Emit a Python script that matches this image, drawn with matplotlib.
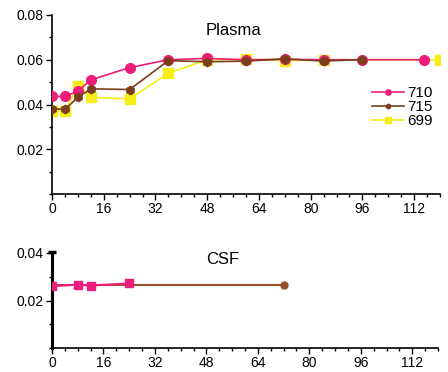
import matplotlib
matplotlib.use("Agg")
import matplotlib.pyplot as plt
from matplotlib.ticker import MultipleLocator

plt.rcParams['font.family'] = ['Liberation Sans', 'DejaVu Sans']

# Plasma data
t710 = [0, 4, 8, 12, 24, 36, 48, 60, 72, 84, 96, 115]
y710 = [0.0436, 0.0436, 0.0460, 0.0510, 0.0565, 0.0600, 0.0606, 0.0600, 0.0602, 0.0600, 0.0600, 0.0600]
t715 = [0, 4, 8, 12, 24, 36, 48, 60, 72, 84, 96]
y715 = [0.0381, 0.0378, 0.0432, 0.0470, 0.0467, 0.0596, 0.0591, 0.0594, 0.0604, 0.0594, 0.0601]
t699 = [0, 4, 8, 12, 24, 36, 48, 60, 72, 84, 120]
y699 = [0.0370, 0.0370, 0.0484, 0.0432, 0.0425, 0.0540, 0.0600, 0.0602, 0.0596, 0.0600, 0.0600]

# CSF data
c710_t = [0, 8, 12, 24]
c710_y = [0.0260, 0.0267, 0.0263, 0.0272]
c715_t = [0, 72]
c715_y = [0.0265, 0.0265]

labels = ['710', '715', '699']
xticks = [0, 16, 32, 48, 64, 80, 96, 112]

pink = '#EE1C7A'
brown = '#7A3E1C'
yellow = '#F5EC18'

fig = plt.figure(figsize=(4.48, 3.72), dpi=100)
ax1 = fig.add_axes([52/448, 1-194/372, 388/448, 179/372])
ax2 = fig.add_axes([52/448, 1-348/372, 386/448, 95/372])

ax1.plot(t699, y699, color=yellow, marker='s', ms=7, lw=1.2, label=labels[2], zorder=2)
ax1.plot(t710, y710, color=pink, marker='o', ms=7, lw=1.2, label=labels[0], zorder=3)
ax1.plot(t715, y715, color=brown, marker='h', ms=6, lw=1.2, label=labels[1], zorder=4)

ax1.set_xlim(0, 120)
ax1.set_ylim(0, 0.08)
ax1.set_yticks([0.02, 0.04, 0.06, 0.08])
ax1.set_yticklabels(['0.02', '0.04', '0.06', '0.08'])
ax1.yaxis.set_minor_locator(MultipleLocator(0.01))
ax1.set_xticks(xticks)
ax1.set_xticklabels([str(v) for v in xticks])
ax1.xaxis.set_minor_locator(MultipleLocator(4))
ax1.text(0.467, 0.915, 'Plasma', transform=ax1.transAxes, ha='center', va='center', fontsize=12)

h, l = ax1.get_legend_handles_labels()
order = [l.index('710'), l.index('715'), l.index('699')]
leg = ax1.legend([h[i] for i in order], [l[i] for i in order], loc='upper left',
                 bbox_to_anchor=(0.79, 0.68), frameon=False, fontsize=11,
                 handlelength=2.1, handletextpad=0.2, labelspacing=0.0, markerscale=0.55)

ax2.plot(c715_t, c715_y, color='#94502A', marker='o', ms=5, lw=1.5, zorder=2)
ax2.plot(c710_t, c710_y, color=pink, marker='s', ms=6, lw=1.5, zorder=3)
ax2.set_xlim(0, 120)
ax2.set_ylim(0, 0.04)
ax2.set_yticks([0.02, 0.04])
ax2.set_yticklabels(['0.02', '0.04'])
ax2.yaxis.set_minor_locator(MultipleLocator(0.01))
ax2.set_xticks(xticks)
ax2.set_xticklabels([str(v) for v in xticks])
ax2.xaxis.set_minor_locator(MultipleLocator(4))
ax2.text(0.443, 0.93, 'CSF', transform=ax2.transAxes, ha='center', va='center', fontsize=12)
ax2.plot([0], [0.0405], marker='_', ms=6, mew=2.5, color='black', clip_on=False)

for ax in (ax1, ax2):
    ax.spines['top'].set_visible(False)
    ax.spines['right'].set_visible(False)
    ax.spines['left'].set_linewidth(1.2)
    ax.spines['bottom'].set_linewidth(1.2)
    ax.tick_params(which='major', direction='out', length=4, width=1, labelsize=10, pad=2)
    ax.tick_params(which='minor', direction='out', length=2, width=1)
ax2.spines['left'].set_linewidth(2.2)
ax2.spines['left'].set_bounds(0, 0.0405)

fig.savefig('out.png', dpi=100)
